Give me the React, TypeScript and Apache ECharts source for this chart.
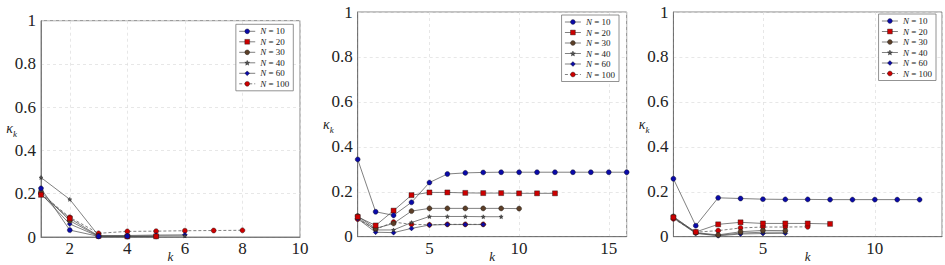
import React, { useEffect, useRef } from 'react';
import * as echarts from 'echarts';

const seriesNames = ['N = 10', 'N = 20', 'N = 30', 'N = 40', 'N = 60', 'N = 100'];

// Panel 1 (k = 1, 2, ...)
const p1N10 = [0.225, 0.032, 0.003, 0.004];
const p1N20 = [0.195, 0.086, 0.005, 0.003, 0.003];
const p1N30 = [0.21, 0.075, 0.004, 0.002, 0.003];
const p1N40 = [0.275, 0.174, 0.006, 0.004, 0.005, 0.005];
const p1N60 = [0.2, 0.06, 0.003, 0.007, 0.009, 0.01];
const p1N100 = [0.2, 0.091, 0.017, 0.026, 0.027, 0.029, 0.03, 0.031];

// Panel 2
const p2N10 = [0.344, 0.111, 0.095, 0.153, 0.241, 0.279, 0.284, 0.286, 0.287, 0.287, 0.287, 0.287, 0.287, 0.287, 0.287, 0.287];
const p2N20 = [0.088, 0.05, 0.116, 0.185, 0.197, 0.197, 0.195, 0.194, 0.194, 0.193, 0.193, 0.193];
const p2N30 = [0.092, 0.037, 0.059, 0.114, 0.126, 0.126, 0.126, 0.126, 0.126, 0.125];
const p2N40 = [0.085, 0.03, 0.03, 0.063, 0.09, 0.09, 0.09, 0.089, 0.089];
const p2N60 = [0.08, 0.02, 0.018, 0.037, 0.052, 0.054, 0.054, 0.054];
const p2N100 = [0.078, 0.033, 0.065, 0.055, 0.053, 0.055, 0.055, 0.055];

// Panel 3
const p3N10 = [0.258, 0.049, 0.173, 0.17, 0.167, 0.166, 0.166, 0.165, 0.165, 0.165, 0.165, 0.165];
const p3N20 = [0.086, 0.021, 0.055, 0.064, 0.059, 0.059, 0.059, 0.057];
const p3N30 = [0.09, 0.018, 0.008, 0.022, 0.028, 0.027];
const p3N40 = [0.086, 0.016, 0.006, 0.016, 0.02, 0.02];
const p3N60 = [0.083, 0.015, 0.004, 0.012, 0.014, 0.015];
const p3N100 = [0.08, 0.02, 0.027, 0.039, 0.043, 0.043, 0.044];

const panelData = [
  [p1N10, p1N20, p1N30, p1N40, p1N60, p1N100],
  [p2N10, p2N20, p2N30, p2N40, p2N60, p2N100],
  [p3N10, p3N20, p3N30, p3N40, p3N60, p3N100],
];
const xMax = [10, 16, 13];
const xStep = [2, 5, 5];
const xSplit = [5, 3, 2];

const FONT = 'Liberation Serif';
const STAR = 'path://M0,-10 L2.6,-3.6 L9.5,-3.1 L4.2,1.4 L5.9,8.1 L0,4.4 L-5.9,8.1 L-4.2,1.4 L-9.5,-3.1 L-2.6,-3.6 Z';

const markStyles = [
  { symbol: 'circle', size: 5, fill: '#0a0aa8' },
  { symbol: 'rect', size: 5, fill: '#cc0000' },
  { symbol: 'circle', size: 5, fill: '#5c3f28' },
  { symbol: STAR, size: 4, fill: '#555555' },
  { symbol: 'diamond', size: 5, fill: '#0a0aa8' },
  { symbol: 'circle', size: 5, fill: '#cc0000' },
];

const grids = [
  { left: 41, top: 20.7, width: 259, height: 216.3 },
  { left: 357.7, top: 12, width: 269, height: 224.7 },
  { left: 673.4, top: 12, width: 268.6, height: 224.7 },
];
const legendPos = [
  { right: 651.7, top: 24.3 },
  { right: 326, top: 15 },
  { right: 9, top: 14 },
];

export default function App() {
  const ref = useRef<HTMLDivElement>(null);
  useEffect(() => {
    if (!ref.current) return;
    const chart = echarts.init(ref.current, null, { renderer: 'svg' });
    const series: any[] = [];
    panelData.forEach((panel, p) => {
      panel.forEach((vals, s) => {
        const m = markStyles[s];
        series.push({
          type: 'line',
          name: seriesNames[s],
          xAxisIndex: p,
          yAxisIndex: p,
          data: vals.map((v, i) => [i + 1, v]),
          symbol: m.symbol,
          symbolSize: m.size,
          showAllSymbol: true,
          lineStyle: { color: '#4a4a4a', width: 0.7, type: s === 5 ? [3, 2] : 'solid' },
          itemStyle: { color: m.fill, borderColor: '#111', borderWidth: 0.4 },
          emphasis: { disabled: true },
          z: 10 - s,
        });
      });
    });
    const option: any = {
      animation: false,
      textStyle: { fontFamily: FONT },
      grid: grids.map((g) => ({
        ...g,
        containLabel: false,
        outerBoundsMode: 'none',
        show: true,
        borderColor: '#666',
        borderWidth: 0.8,
        backgroundColor: 'transparent',
      })),
      xAxis: grids.map((_, p) => ({
        type: 'value',
        gridIndex: p,
        min: 1,
        max: xMax[p],
        splitNumber: xSplit[p],
        name: 'k',
        nameLocation: 'middle',
        nameGap: 13,
        nameMoveOverlap: false,
        nameTextStyle: { fontFamily: FONT, fontStyle: 'italic', fontSize: 13, color: '#222' },
        axisLine: { show: true, lineStyle: { color: '#666', width: 0.8 } },
        axisTick: { show: false },
        axisLabel: {
          margin: 3,
          fontFamily: FONT,
          fontSize: 17,
          color: '#222',
          formatter: (v: number) => (Math.abs(v % xStep[p]) < 1e-9 && v !== 0 ? String(v) : ''),
        },
        splitLine: { show: true, lineStyle: { color: '#dddddd', type: [3, 3], width: 0.7 } },
      })),
      yAxis: grids.map((_, p) => ({
        type: 'value',
        gridIndex: p,
        min: 0,
        max: 1,
        interval: 0.2,
        name: '{k|κ}{s|k}',
        nameLocation: 'middle',
        nameRotate: 0,
        nameGap: 24,
        nameMoveOverlap: false,
        nameTextStyle: {
          fontFamily: FONT,
          color: '#222',
          rich: {
            k: { fontSize: 14, fontStyle: 'italic', fontFamily: FONT, lineHeight: 20, color: '#222' },
            s: { fontSize: 9, fontStyle: 'italic', fontFamily: FONT, lineHeight: 9, verticalAlign: 'bottom', color: '#222' },
          },
        },
        axisLine: { show: true, lineStyle: { color: '#666', width: 0.8 } },
        axisTick: { show: false },
        axisLabel: { margin: 5, fontFamily: FONT, fontSize: 17, color: '#222' },
        splitLine: { show: true, lineStyle: { color: '#dddddd', type: [3, 3], width: 0.7 } },
      })),
      legend: legendPos.map((lp) => ({
        ...lp,
        orient: 'vertical',
        data: seriesNames,
        selectedMode: false,
        itemWidth: 16,
        itemHeight: 6,
        itemGap: 0.5,
        padding: [2, 4, 2, 3],
        borderColor: '#777',
        borderWidth: 0.8,
        borderRadius: 0,
        backgroundColor: '#fff',
        itemStyle: { borderWidth: 0.4, borderColor: '#111' },
        lineStyle: { width: 0.7, color: '#4a4a4a' },
        formatter: (n: string) => n.replace('N', '{i|N}'),
        textStyle: {
          fontFamily: FONT,
          fontSize: 9,
          lineHeight: 10,
          color: '#222',
          rich: { i: { fontFamily: FONT, fontStyle: 'italic', fontSize: 9, color: '#222' } },
        },
      })),
      series,
    };
    chart.setOption(option);
    return () => chart.dispose();
  }, []);
  return <div ref={ref} style={{ position: 'fixed', left: 0, top: 0, width: 945, height: 265, background: '#fff' }} />;
}
